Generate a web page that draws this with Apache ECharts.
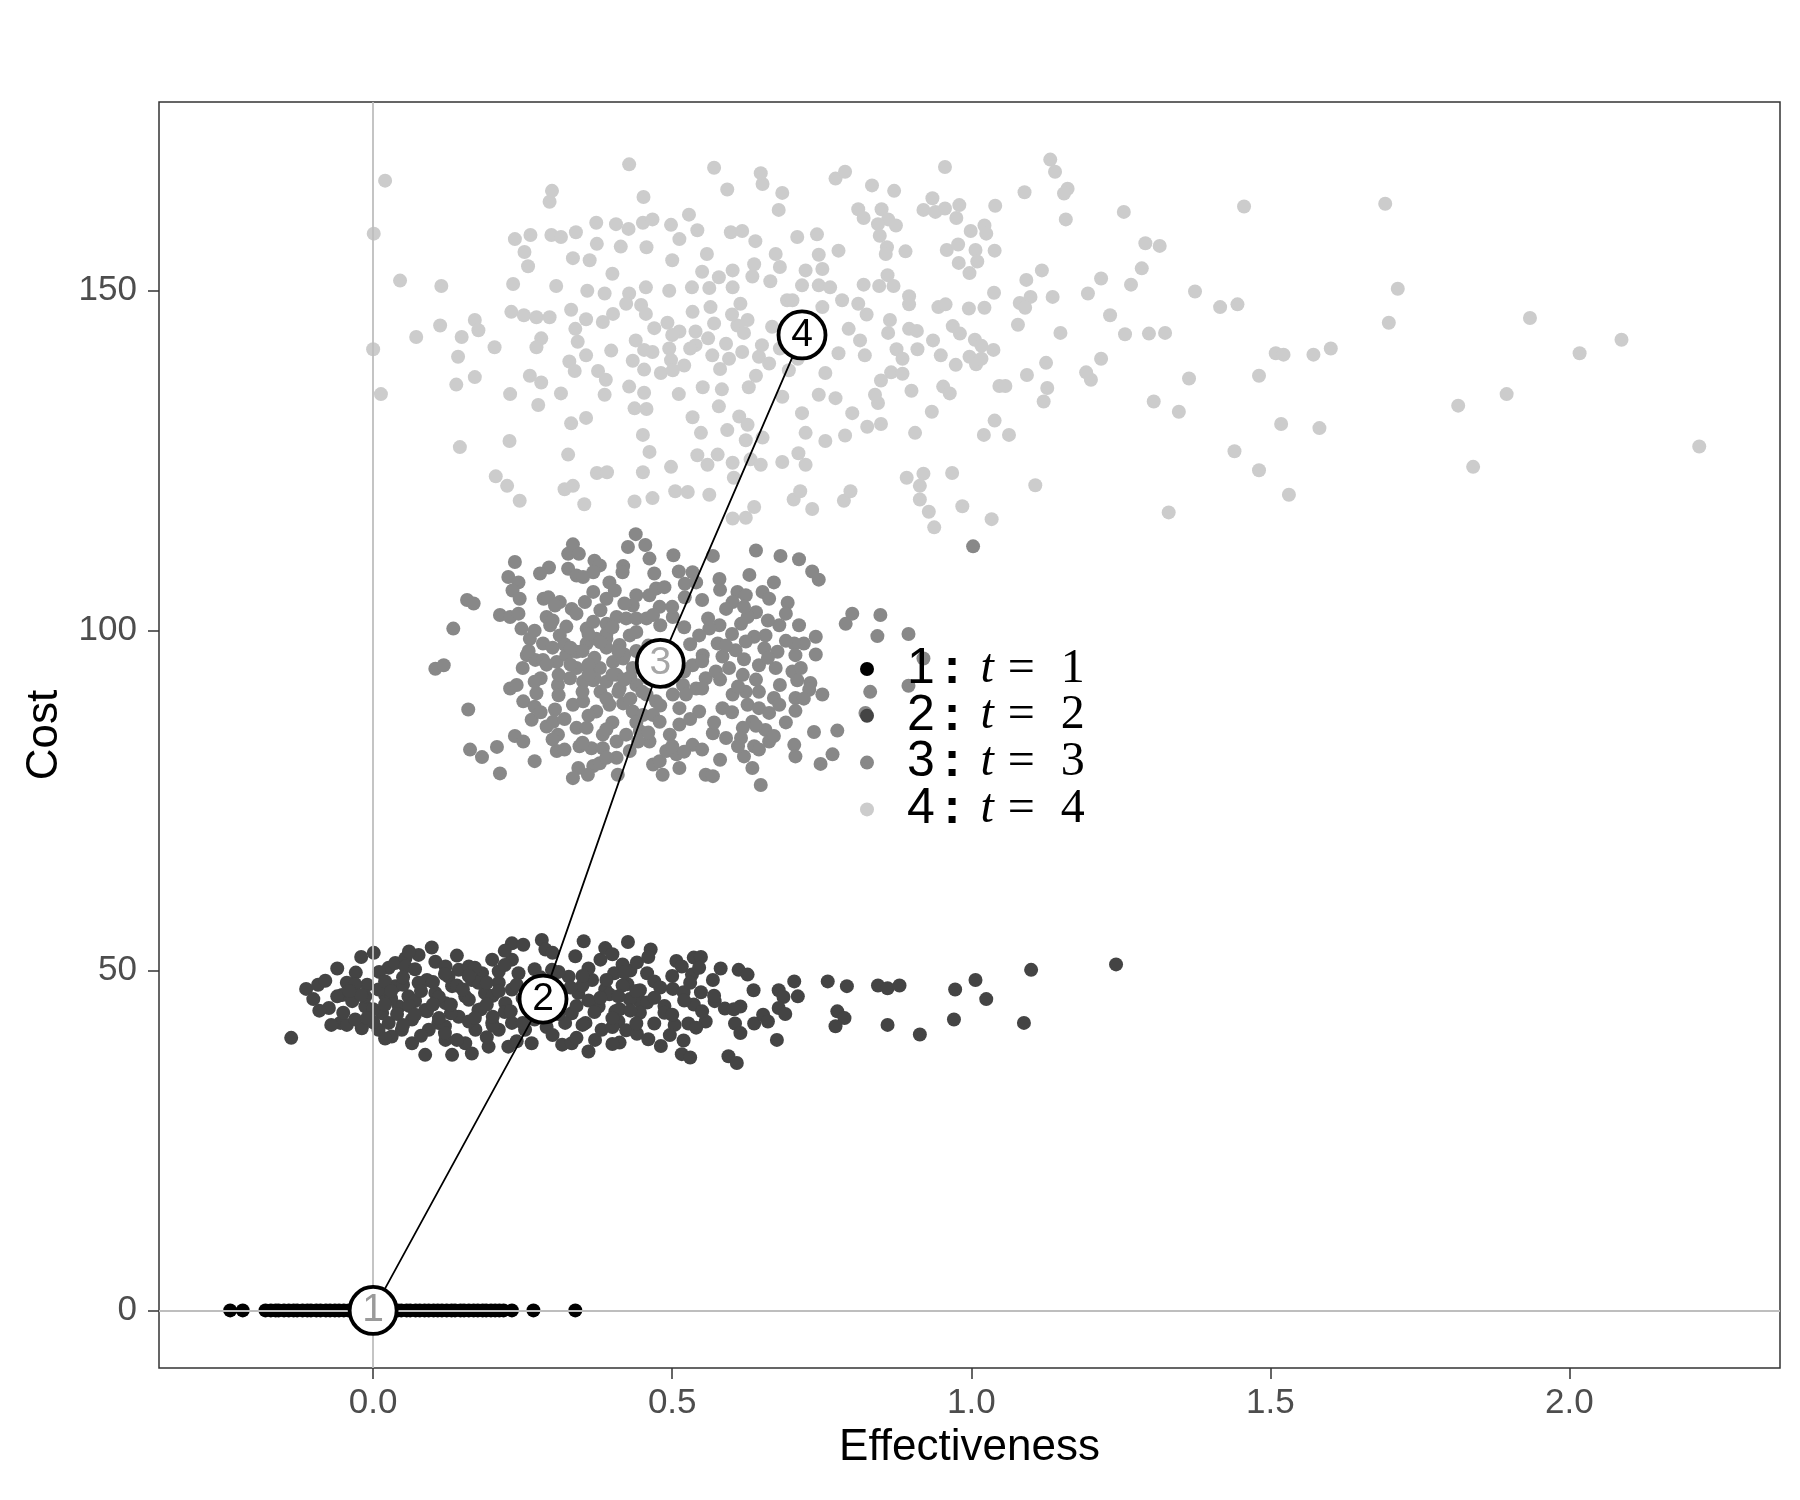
<!DOCTYPE html>
<html lang="en">
<head>
    <meta charset="UTF-8">
    <title>Cost vs Effectiveness</title>
    <script src="https://cdn.jsdelivr.net/npm/echarts@6/dist/echarts.min.js"></script>
    <style>
        html, body { margin: 0; padding: 0; background: #ffffff; }
        #chart { width: 1800px; height: 1500px; }
    </style>
</head>
<body>
<div id="chart"></div>
<script>
    // group names (t = 1..4)
    const groups = ['1', '2', '3', '4'];
    const groupColors = ['#000000', '#444444', '#888888', '#cccccc'];

    // t = 1 : all costs are 0, only effectiveness varies
    const t1Effect = [-0.239, -0.218, -0.180, -0.171, -0.163, -0.158, -0.149, -0.141, -0.133, -0.127,
        -0.118, -0.110, -0.104, -0.095, -0.088, -0.079, -0.072, -0.064, -0.057, -0.049, -0.041,
        -0.036, -0.027, -0.019, -0.012, -0.004, 0.003, 0.011, 0.018, 0.026, 0.033, 0.041, 0.047,
        0.056, 0.062, 0.071, 0.078, 0.086, 0.093, 0.101, 0.108, 0.115, 0.123, 0.131, 0.137, 0.146,
        0.152, 0.160, 0.168, 0.175, 0.183, 0.189, 0.197, 0.204, 0.211, 0.218, 0.232, 0.268, 0.338];

    // t = 2 : [effectiveness, cost]
    const t2Points = [
        [-0.137,40.1],[-0.112,47.3],[-0.092,47.9],[-0.074,44.5],[-0.055,42.3],[-0.044,42.0],[-0.052,46.4],
        [-0.044,48.2],[-0.029,49.7],[-0.019,41.5],[-0.010,47.9],[0.001,52.6],[0.009,41.3],[0.020,46.4],
        [0.026,50.4],[0.031,40.3],[0.037,51.1],[0.054,51.8],[0.054,50.6],[0.065,39.3],[0.076,52.3],
        [0.087,37.6],[0.090,48.6],[0.098,53.4],[0.104,51.3],[0.121,50.6],[0.121,39.8],[0.132,37.6],
        [0.143,50.1],[0.154,39.3],[0.160,50.6],[0.165,37.8],[0.182,49.6],[0.199,51.6],[0.193,38.8],
        [0.210,41.3],[0.226,38.8],[0.232,54.0],[0.251,53.8],[0.232,51.6],[0.265,39.3],[0.282,54.5],
        [0.288,53.1],[0.316,39.1],[0.332,39.3],[0.338,52.1],[0.352,54.3],[0.360,38.1],[0.371,39.8],
        [0.380,51.6],[0.388,53.3],
        [-0.035,45.5],[-0.013,44.7],[0.009,47.2],[0.015,43.7],[0.037,47.7],[0.043,44.7],[0.059,46.2],
        [0.065,42.8],[0.076,48.2],[0.087,44.2],[0.104,46.7],[0.109,42.3],[0.121,45.2],[0.132,47.7],
        [0.143,43.2],[0.154,46.2],[0.165,48.6],[0.176,44.2],[0.187,46.7],[0.199,42.3],[0.210,48.2],
        [0.221,45.2],[0.232,47.2],[0.232,42.3],[0.243,49.6],[0.254,41.3],[0.265,44.2],[0.327,49.1],
        [0.332,43.7],[0.343,46.7],[0.355,42.3],[0.366,48.6],[0.377,44.7],[0.388,47.2],[0.382,41.3],
        [-0.030,42.8],[-0.013,46.2],[0.026,42.3],[0.048,41.3],[0.093,41.3],[0.171,41.3],[0.126,49.1],
        [0.176,48.2],[0.299,50.1],[0.321,42.3],
        [0.395,46.5],[0.405,44.0],[0.425,48.0],[0.445,45.5],[0.410,42.5],[0.430,50.0],
        [0.426,54.2],[0.464,53.1],[0.417,50.9],[0.441,51.2],[0.403,49.6],[0.458,49.6],[0.470,48.4],
        [0.417,47.8],[0.446,47.1],[0.429,45.8],[0.458,45.3],[0.412,44.3],[0.446,43.8],[0.400,41.7],
        [0.423,41.2],[0.441,40.7],[0.470,42.2],[0.412,39.4],[0.400,39.2],[0.507,51.4],[0.516,50.6],
        [0.536,51.9],[0.548,52.0],[0.533,49.4],[0.545,50.4],[0.501,47.3],[0.519,46.8],[0.548,46.8],
        [0.536,45.0],[0.487,44.8],[0.487,43.8],[0.504,42.0],[0.527,42.2],[0.556,42.5],[0.568,48.6],
        [0.581,50.3],[0.611,50.1],[0.626,49.4],[0.636,47.1],[0.571,45.5],[0.588,44.4],[0.614,44.7],
        [0.603,44.3],[0.605,42.2],[0.614,40.8],[0.637,42.2],[0.652,43.5],[0.660,42.5],[0.675,39.8],
        [0.678,47.1],[0.686,46.1],[0.704,48.4],[0.710,46.2],[0.678,44.5],[0.689,43.6],[0.481,38.9],
        [0.496,40.5],[0.519,39.7],[0.516,37.7],[0.530,37.2],[0.594,37.4],[0.608,36.4],[0.760,48.4],
        [0.792,47.7],[0.844,47.8],[0.860,47.4],[0.880,47.8],[0.776,44.0],[0.788,43.0],[0.773,41.8],
        [0.860,42.0],[0.914,40.6],[0.973,47.2],[1.007,48.6],[1.025,45.8],[0.971,42.8],[1.088,42.3],
        [1.100,50.1],[1.242,50.9],
        [-0.02,52.0],[0.06,52.8],[0.14,52.2],[0.22,52.9],[0.30,52.6],[0.40,52.4],[0.46,52.0],
        [-0.06,50.3],[0.01,49.8],[0.07,50.2],[0.12,49.5],[0.17,50.4],[0.21,49.9],[0.27,50.2],[0.31,49.8],
        [0.36,50.3],[0.42,49.7],[0.50,49.2],
        [-0.08,48.5],[-0.03,48.0],[0.02,48.4],[0.05,47.9],[0.10,48.3],[0.14,47.8],[0.19,48.2],[0.24,47.9],
        [0.29,48.3],[0.35,47.8],[0.39,48.6],[0.48,47.5],[0.53,48.2],
        [-0.10,45.8],[-0.06,46.2],[-0.02,46.4],[0.03,45.9],[0.07,45.5],[0.11,46.1],[0.16,45.7],[0.20,46.3],
        [0.25,45.9],[0.31,46.0],[0.36,45.6],[0.41,46.2],[0.47,46.0],[0.52,45.6],[0.57,46.3],
        [-0.09,44.1],[-0.05,43.8],[0.00,44.3],[0.04,43.6],[0.09,44.0],[0.13,43.7],[0.18,44.3],[0.22,43.9],
        [0.28,44.2],[0.31,43.6],[0.37,43.9],[0.43,44.1],[0.50,43.5],[0.55,44.0],
        [-0.07,42.0],[0.00,42.4],[0.05,42.0],[0.12,41.8],[0.16,42.5],[0.20,41.9],[0.25,42.3],[0.29,41.7],
        [0.35,42.0],[0.44,42.2],[0.54,41.6],
        [0.02,40.0],[0.08,40.4],[0.14,39.8],[0.19,40.2],[0.24,39.6],[0.30,40.5],[0.34,40.1],[0.46,39.9],
        [0.03,47.0],[0.06,44.8],[0.08,47.0],[0.11,43.0],[0.13,45.0],[0.15,47.2],[0.17,43.0],[0.19,45.0],
        [0.21,47.0],[0.23,44.0],[0.26,47.0],[0.27,42.8],[0.30,45.0],[0.33,47.5],[0.34,44.8],[0.38,46.0],
        [0.40,43.0],[0.44,47.0],[-0.04,47.0],[-0.01,43.0],[0.02,45.0],[0.05,49.0],[0.10,45.0],[0.16,49.2],
        [0.22,50.8],[0.28,49.0],[0.35,49.2],[0.12,40.8],[0.20,43.2],[0.07,43.5]
    ];

    // t = 3
    const t3Points = [
        [0.439,114.2],[0.426,112.3],[0.455,112.6],[0.462,110.6],[0.502,111.1],[0.511,108.7],[0.470,108.4],
        [0.418,109.5],[0.417,108.6],[0.370,110.3],[0.379,109.6],[0.368,108.6],[0.334,112.7],[0.326,111.3],
        [0.344,111.3],[0.326,109.1],[0.340,108.1],[0.351,107.9],[0.294,109.3],[0.279,108.4],[0.237,110.1],
        [0.226,107.9],[0.243,107.1],[0.233,105.9],[0.245,104.7],[0.395,107.1],[0.404,105.9],[0.390,104.7],
        [0.368,105.7],[0.354,104.2],[0.332,103.2],[0.312,104.2],[0.285,104.7],[0.293,104.9],[0.304,103.7],
        [0.440,105.2],[0.434,103.7],[0.462,105.2],[0.473,106.2],[0.487,106.4],[0.479,103.5],[0.521,106.9],
        [0.521,104.9],[0.157,104.5],[0.168,104.0],[0.134,100.3],[0.212,102.3],[0.229,102.0],[0.243,102.5],
        [0.248,100.3],[0.290,102.0],[0.296,100.8],[0.323,100.6],[0.312,99.3],[0.357,100.3],[0.368,101.3],
        [0.390,101.0],[0.407,102.0],[0.423,101.8],[0.440,101.8],[0.457,101.8],[0.468,102.3],[0.501,102.0],
        [0.262,98.8],[0.284,98.1],[0.257,96.4],[0.271,95.7],[0.284,95.7],[0.307,95.4],[0.323,96.4],
        [0.340,96.9],[0.357,98.1],[0.373,98.8],[0.390,98.8],[0.412,97.9],[0.429,99.3],[0.104,94.4],
        [0.118,94.9],[0.309,92.0],[0.329,93.0],[0.340,94.5],[0.362,94.0],[0.379,94.5],[0.401,95.4],
        [0.418,95.9],[0.434,94.5],[0.407,93.5],[0.390,92.5],[0.368,92.7],[0.351,92.5],[0.412,91.5],
        [0.440,92.0],[0.457,90.6],[0.473,89.6],[0.501,90.6],[0.518,92.0],[0.512,88.6],[0.229,91.5],
        [0.240,92.0],[0.273,90.8],[0.251,89.6],[0.270,88.8],[0.304,88.4],[0.334,89.1],[0.351,89.6],
        [0.373,88.1],[0.395,89.1],[0.418,89.3],[0.434,88.1],[0.451,87.6],[0.468,87.6],[0.479,86.6],
        [0.496,84.7],[0.512,86.2],[0.159,88.4],[0.265,86.9],[0.290,85.9],[0.301,86.6],[0.309,84.7],
        [0.340,85.7],[0.357,85.7],[0.384,84.7],[0.407,83.7],[0.423,84.7],[0.446,85.2],[0.462,83.7],
        [0.237,84.5],[0.251,83.7],[0.162,82.5],[0.182,81.4],[0.207,82.9],[0.270,80.8],[0.212,79.0],
        [0.307,82.3],[0.320,82.5],[0.345,83.0],[0.365,82.7],[0.384,82.7],[0.407,81.3],[0.429,82.3],
        [0.443,83.7],[0.468,80.3],[0.479,80.8],[0.490,82.3],[0.507,81.8],[0.512,79.8],[0.484,78.8],
        [0.343,79.8],[0.334,78.3],[0.368,80.1],[0.379,80.5],[0.359,78.8],[0.409,78.8],[0.390,81.3],
        [0.350,97.0],[0.370,96.0],[0.390,97.5],[0.400,93.5],[0.420,96.5],[0.360,95.0],[0.380,91.0],
        [0.330,95.0],[0.440,97.0],[0.450,95.0],[0.460,93.0],[0.410,91.0],[0.430,90.0],[0.370,93.0],
        [0.390,99.5],[0.300,97.5],[0.310,93.5],[0.280,93.0],[0.250,94.5],
        [0.640,111.8],[0.681,111.0],[0.712,110.5],[0.734,108.7],[0.745,107.5],[0.629,108.2],[0.568,111.0],
        [0.579,107.6],[0.534,108.6],[0.540,107.1],[0.609,105.7],[0.601,104.2],[0.623,105.2],[0.651,105.7],
        [0.670,107.1],[0.662,104.7],[0.693,104.1],[0.640,102.7],[0.626,102.0],[0.615,101.0],[0.590,103.2],
        [0.579,100.8],[0.562,100.3],[0.545,99.3],[0.679,100.8],[0.656,99.3],[0.637,99.1],[0.712,100.8],
        [0.740,99.1],[0.720,98.1],[0.704,98.1],[0.706,96.4],[0.676,96.9],[0.654,97.4],[0.623,98.4],
        [0.606,97.1],[0.584,96.2],[0.576,98.1],[0.551,96.4],[0.534,94.9],[0.556,93.0],[0.573,94.0],
        [0.595,94.5],[0.618,93.5],[0.645,94.9],[0.673,94.5],[0.701,94.0],[0.715,94.5],[0.709,92.7],
        [0.731,92.3],[0.729,91.3],[0.751,90.6],[0.706,90.1],[0.670,90.1],[0.645,91.0],[0.623,91.0],
        [0.601,90.6],[0.584,88.6],[0.540,91.5],[0.523,90.6],[0.545,88.1],[0.626,89.1],[0.645,88.6],
        [0.662,87.9],[0.679,89.1],[0.706,88.2],[0.634,86.6],[0.618,85.7],[0.656,85.4],[0.662,83.7],
        [0.637,83.0],[0.620,81.5],[0.645,82.5],[0.704,83.2],[0.706,81.5],[0.737,85.1],[0.776,85.3],
        [0.768,81.8],[0.748,80.4],[0.568,84.9],[0.590,84.2],[0.615,84.2],[0.534,83.2],[0.520,82.2],
        [0.634,79.8],[0.556,78.8],[0.648,77.3],[0.568,78.6],[0.801,102.5],[0.790,101.0],[0.848,102.3],
        [0.843,99.2],[0.895,99.5],[0.920,95.9],[0.895,91.9],[0.831,91.0],[0.823,87.9],[1.003,112.4],
        [0.30,101.5],[0.34,102.5],[0.38,103.0],[0.42,104.0],[0.50,103.5],[0.55,104.5],[0.58,106.0],[0.62,103.5],
        [0.27,100.0],[0.32,98.0],[0.36,99.5],[0.40,100.5],[0.44,99.8],[0.48,100.8],[0.52,100.5],[0.56,101.8],
        [0.60,99.5],[0.66,101.5],[0.69,102.5],
        [0.26,97.0],[0.29,95.0],[0.33,97.5],[0.36,93.5],[0.38,98.3],[0.41,97.0],[0.43,93.2],[0.46,97.8],
        [0.50,96.5],[0.53,98.0],[0.55,95.5],[0.59,97.8],[0.62,95.8],[0.66,96.0],[0.69,98.5],[0.74,96.5],
        [0.27,92.5],[0.31,90.5],[0.35,91.0],[0.39,90.0],[0.42,92.8],[0.45,91.0],[0.49,92.5],[0.52,94.0],
        [0.55,91.5],[0.58,92.8],[0.61,91.8],[0.64,92.8],[0.68,92.0],[0.72,90.0],
        [0.28,88.0],[0.32,87.0],[0.36,87.5],[0.40,86.5],[0.44,86.5],[0.48,89.0],[0.53,87.0],[0.57,86.5],
        [0.60,88.0],[0.64,86.0],[0.69,86.5],
        [0.30,84.0],[0.35,83.5],[0.39,85.5],[0.46,85.0],[0.50,83.0],[0.55,82.5],[0.58,81.0],[0.61,83.0],[0.67,84.5]
    ];

    // t = 4
    const t4Points = [
        [0.237,157.6],[0.263,158.2],[0.298,158.2],[0.314,157.9],[0.339,158.6],[0.373,160.0],[0.406,159.8],
        [0.427,159.1],[0.451,160.0],[0.467,160.5],[0.498,159.7],[0.528,161.2],[0.542,158.9],[0.598,158.6],
        [0.617,158.8],[0.639,157.3],[0.673,155.4],[0.709,157.9],[0.742,158.3],[0.745,155.3],[0.778,155.9],
        [0.253,155.7],[0.259,153.6],[0.334,154.8],[0.362,154.5],[0.374,156.9],[0.414,156.5],[0.457,156.4],
        [0.512,157.6],[0.558,155.4],[0.637,153.9],[0.601,153.0],[0.634,152.1],[0.723,153.0],[0.751,153.2],
        [0.234,151.0],[0.306,150.7],[0.358,150.0],[0.387,149.6],[0.428,149.6],[0.456,150.5],[0.495,150.0],
        [0.533,150.5],[0.562,150.4],[0.578,152.0],[0.601,150.5],[0.614,148.1],[0.664,151.4],[0.692,148.6],
        [0.717,150.8],[0.745,150.8],[0.764,150.5],[0.231,146.9],[0.252,146.4],[0.273,146.1],[0.295,146.1],
        [0.331,147.2],[0.356,145.8],[0.384,145.4],[0.401,146.6],[0.423,148.1],[0.448,147.9],[0.456,146.6],
        [0.492,145.3],[0.512,144.0],[0.534,146.9],[0.539,144.0],[0.564,147.6],[0.570,145.2],[0.609,144.9],
        [0.626,145.7],[0.667,144.7],[0.701,148.6],[0.751,147.6],[0.784,148.6],[0.795,144.4],[0.112,144.9],
        [0.072,143.2],[0.148,143.2],[0.170,145.7],[0.176,144.2],[0.203,141.7],[0.142,140.3],[0.139,136.2],
        [0.170,137.3],[0.281,143.0],[0.273,141.7],[0.338,144.4],[0.342,142.5],[0.356,140.5],[0.398,141.2],
        [0.439,142.7],[0.453,141.3],[0.467,141.0],[0.495,141.5],[0.498,139.8],[0.539,142.0],[0.567,140.5],
        [0.595,140.0],[0.617,141.0],[0.645,140.3],[0.662,139.3],[0.695,138.3],[0.756,137.9],[0.778,140.8],
        [0.328,139.6],[0.337,138.2],[0.376,138.2],[0.389,136.9],[0.434,139.7],[0.453,138.4],[0.481,137.9],
        [0.501,138.3],[0.229,134.8],[0.262,137.5],[0.281,136.5],[0.276,133.2],[0.314,134.9],[0.387,134.7],
        [0.428,135.9],[0.453,135.0],[0.511,134.8],[0.551,135.8],[0.583,135.5],[0.628,135.8],[0.684,134.4],
        [0.717,132.0],[0.745,134.7],[0.773,134.2],[0.789,128.7],[0.801,132.0],[0.437,132.7],[0.457,132.6],
        [0.534,131.4],[0.548,129.1],[0.578,133.0],[0.592,129.5],[0.612,131.5],[0.626,130.3],[0.623,128.0],
        [0.651,128.4],[0.723,129.1],[0.756,127.9],[0.228,127.9],[0.145,127.0],[0.331,130.5],[0.356,131.3],
        [0.326,125.9],[0.451,128.8],[0.462,126.3],[0.542,125.8],[0.559,124.4],[0.576,125.9],[0.601,124.7],
        [0.631,125.2],[0.648,124.4],[0.684,124.8],[0.711,126.1],[0.723,124.4],[0.205,122.7],[0.224,121.3],
        [0.245,119.1],[0.320,120.8],[0.334,121.3],[0.374,123.2],[0.391,123.3],[0.451,123.3],[0.498,124.1],
        [0.505,120.5],[0.526,120.4],[0.562,120.0],[0.603,122.5],[0.437,119.0],[0.467,119.5],[0.353,118.6],
        [0.601,116.5],[0.623,116.6],[0.637,118.2],[0.703,119.3],[0.714,120.5],[0.734,117.9],[0.787,119.1],
        [0.798,120.5],[0.592,164.9],[0.651,165.7],[0.648,167.3],[0.684,164.4],[0.678,161.9],[0.570,168.1],
        [0.428,168.6],[0.452,163.8],[0.299,164.7],[0.295,163.1],[0.020,166.2],[0.001,158.4],[0.000,141.4],
        [0.045,151.5],[0.114,150.7],[0.013,134.8],[0.773,166.5],[0.789,167.5],
        [0.956,168.2],[0.834,165.5],[0.871,164.7],[0.935,163.6],[0.920,161.9],[0.940,161.6],[0.956,162.1],
        [0.980,162.6],[0.975,160.7],[1.040,162.5],[1.089,164.5],[1.132,169.3],[1.140,167.5],[1.161,165.0],
        [1.155,164.3],[1.158,160.5],[1.255,161.6],[1.456,162.4],[0.811,162.0],[0.820,160.7],[0.850,162.0],
        [0.861,160.5],[0.874,159.6],[0.844,159.8],[0.847,158.1],[0.999,158.8],[1.022,159.6],[1.025,158.4],
        [0.959,156.0],[0.978,156.8],[1.007,156.0],[1.039,155.9],[0.890,155.8],[0.859,156.4],[0.857,155.4],
        [0.979,154.1],[1.010,154.3],[0.997,152.6],[0.860,152.3],[0.870,150.7],[0.846,150.7],[0.820,150.9],
        [0.896,149.2],[0.896,148.0],[0.825,146.5],[0.811,148.1],[0.945,147.6],[0.957,148.0],[0.996,147.4],
        [1.022,147.5],[1.038,149.7],[0.864,145.7],[0.861,143.8],[0.896,144.4],[0.909,144.1],[0.969,144.8],
        [0.981,143.7],[0.936,142.7],[1.006,142.8],[1.017,141.9],[1.037,141.3],[0.875,141.4],[0.885,140.0],
        [0.910,141.4],[0.949,140.5],[0.997,140.3],[1.008,139.2],[1.017,140.0],[0.974,139.1],[0.822,140.5],
        [0.814,142.7],[0.866,138.0],[0.885,137.8],[0.849,136.8],[0.839,134.7],[0.844,133.5],[0.900,135.3],
        [0.934,132.2],[0.953,135.9],[0.964,134.9],[0.826,130.0],[0.849,130.4],[0.906,129.1],[1.039,130.9],
        [1.021,128.8],[1.063,128.8],[1.081,148.2],[1.099,149.1],[1.090,147.5],[1.078,145.0],[1.118,153.0],
        [1.092,151.6],[1.136,149.1],[1.149,143.8],[1.125,139.4],[1.093,137.6],[1.127,135.7],[1.121,133.7],
        [1.047,136.0],[1.057,136.0],[1.195,149.6],[1.217,151.8],[1.232,146.4],[1.257,143.6],[1.267,150.9],
        [1.285,153.3],[1.291,157.0],[1.315,156.6],[1.297,143.7],[1.324,143.8],[1.217,140.0],[1.192,138.0],
        [1.200,136.9],[1.374,149.9],[1.416,147.6],[1.445,148.0],[1.364,137.1],[1.481,137.5],[1.509,140.8],
        [1.522,140.6],[1.572,140.6],[1.601,141.5],[1.305,133.7],[1.347,132.2],[1.518,130.4],[1.582,129.8],
        [1.440,126.4],[1.481,123.6],[1.531,120.0],[1.330,117.4],[0.892,122.5],[0.920,123.1],[0.914,121.3],
        [0.914,119.3],[0.929,117.5],[0.938,115.2],[0.968,123.2],[0.985,118.3],[1.034,116.4],[1.107,121.4],
        [1.692,162.8],[1.713,150.3],[1.698,145.3],[1.814,133.1],[1.839,124.1],[1.895,134.8],[1.934,146.0],
        [2.017,140.8],[2.087,142.8],[2.217,127.1],
        [0.50,143.5],[0.53,141.5],[0.56,143.0],[0.59,142.2],[0.62,143.8],[0.65,142.0],[0.68,141.5],
        [0.71,140.0],[0.52,139.0],[0.58,138.5],[0.64,137.5],[0.47,144.5],[0.60,146.5],[0.40,152.5],
        [0.55,152.8],[0.68,153.5],[0.50,154.5]
    ];

    // group means, joined by the frontier line
    const meanEffect = [0, 0.284, 0.480, 0.717];
    const meanCost = [0, 45.8, 95.2, 143.5];
    const meanLabelColors = ['#9a9a9a', '#000000', '#a6a6a6', '#000000'];

    const xTicks = [0, 0.5, 1, 1.5, 2];
    const yTicks = [0, 50, 100, 150];

    const chart = echarts.init(document.getElementById('chart'));

    const t1Points = t1Effect.map(function (e) { return [e, 0]; });
    const allPoints = [t1Points, t2Points, t3Points, t4Points];

    const pointSeries = groups.map(function (g, i) {
        return {
            name: g,
            type: 'scatter',
            data: allPoints[i],
            symbol: 'circle',
            symbolSize: 14,
            itemStyle: { color: groupColors[i], opacity: 1 },
            z: 2,
            silent: true
        };
    });

    const serifTok = { fontFamily: 'Liberation Serif', fontSize: 48, color: '#000', lineHeight: 46 };

    const option = {
        backgroundColor: '#ffffff',
        animation: false,
        grid: {
            left: 159, right: 20, top: 102, bottom: 132,
            show: true, borderColor: '#333333', borderWidth: 1.5, backgroundColor: 'transparent'
        },
        legend: {
            data: groups,
            orient: 'vertical',
            left: 855,
            top: 639,
            itemWidth: 70,
            itemHeight: 14,
            itemGap: -3.2,
            icon: 'circle',
            selectedMode: false,
            formatter: function (name) {
                return '{n|' + name + '}{c|:}{t|t}{q|=}{d|' + name + '}';
            },
            textStyle: {
                rich: {
                    n: { fontFamily: 'Liberation Sans', fontSize: 50, color: '#000', lineHeight: 46 },
                    c: { fontFamily: 'Liberation Sans', fontSize: 50, fontWeight: 'bold', color: '#000', lineHeight: 46, padding: [0, 0, 0, 9] },
                    t: Object.assign({}, serifTok, { fontStyle: 'italic', padding: [0, 0, 0, 20] }),
                    q: Object.assign({}, serifTok, { padding: [0, 0, 0, 14] }),
                    d: Object.assign({}, serifTok, { padding: [0, 0, 0, 26] })
                }
            }
        },
        xAxis: {
            type: 'value',
            min: -0.358,
            max: 2.352,
            name: 'Effectiveness',
            nameLocation: 'middle',
            nameGap: 58,
            nameTextStyle: { fontFamily: 'Liberation Sans', fontSize: 44, color: '#000000' },
            axisLine: { show: false, onZero: false },
            splitLine: { show: false },
            axisTick: { show: true, length: 11, customValues: xTicks, lineStyle: { color: '#333333', width: 1.5 } },
            axisLabel: {
                customValues: xTicks,
                margin: 18,
                fontFamily: 'Liberation Sans', fontSize: 35, color: '#4d4d4d',
                formatter: function (v) { return v.toFixed(1); }
            }
        },
        yAxis: {
            type: 'value',
            min: -8.47,
            max: 177.77,
            name: 'Cost',
            nameLocation: 'middle',
            nameGap: 92,
            nameTextStyle: { fontFamily: 'Liberation Sans', fontSize: 44, color: '#000000' },
            axisLine: { show: false, onZero: false },
            splitLine: { show: false },
            axisTick: { show: true, length: 11, customValues: yTicks, lineStyle: { color: '#333333', width: 1.5 } },
            axisLabel: {
                customValues: yTicks,
                margin: 22,
                fontFamily: 'Liberation Sans', fontSize: 35, color: '#4d4d4d'
            }
        },
        series: [
            {
                // reference lines at zero, under the points
                name: 'zero',
                type: 'scatter',
                data: [],
                z: 1,
                silent: true,
                markLine: {
                    silent: true,
                    symbol: ['none', 'none'],
                    label: { show: false },
                    lineStyle: { color: '#bebebe', width: 1.8, type: 'solid' },
                    data: [{ xAxis: 0 }, { yAxis: 0 }]
                }
            }
        ].concat(pointSeries).concat([
            {
                name: 'frontier',
                type: 'line',
                data: meanEffect.map(function (e, i) { return [e, meanCost[i]]; }),
                symbol: 'none',
                lineStyle: { color: '#000000', width: 1.8 },
                z: 4,
                silent: true
            },
            {
                name: 'means',
                type: 'scatter',
                data: meanEffect.map(function (e, i) {
                    return {
                        value: [e, meanCost[i]],
                        label: { color: meanLabelColors[i] }
                    };
                }),
                symbol: 'circle',
                symbolSize: 47,
                itemStyle: { color: '#ffffff', borderColor: '#000000', borderWidth: 3.8, opacity: 1 },
                label: {
                    show: true,
                    position: 'inside',
                    fontFamily: 'Liberation Sans',
                    fontSize: 39,
                    formatter: function (p) { return groups[p.dataIndex]; }
                },
                z: 5,
                silent: true
            }
        ])
    };

    chart.setOption(option);
</script>
</body>
</html>
